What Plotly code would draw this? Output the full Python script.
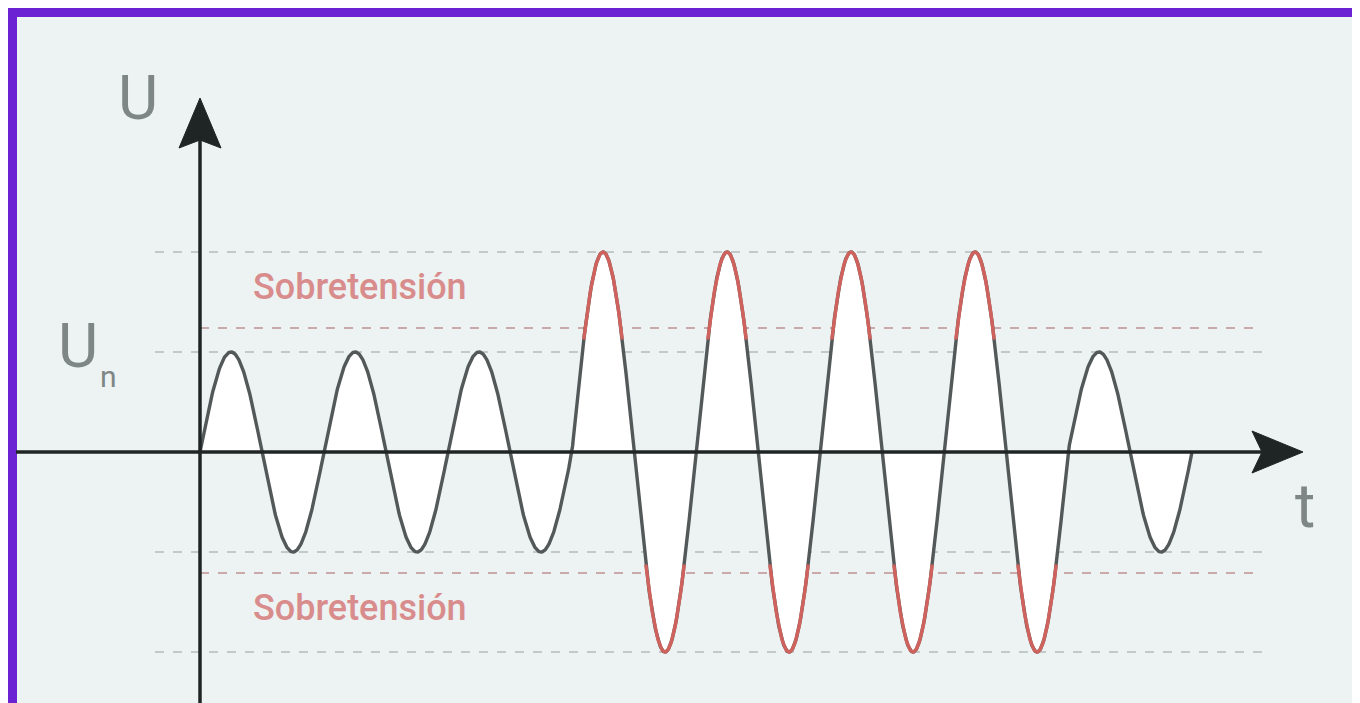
import numpy as np
import plotly.graph_objects as go

# ---- data ----
cycle_amplitudes = [1, 1, 1, 2, 2, 2, 2, 1]      # peak voltage per cycle, in units of Un
nominal_levels = [1, -1]                           # +-Un
overvoltage_peak_levels = [2, -2]                  # peaks of the overvoltage
overvoltage_threshold = [1.24, -1.21]              # red dashed thresholds
labels_over = ["Sobretensión", "Sobretensión"]
axis_label_y = "U"
axis_label_x = "t"
nominal_label = "U"
nominal_sub = "n"

samples_per_cycle = 200
t_list, u_list = [], []
for k, a in enumerate(cycle_amplitudes):
    tt = np.linspace(k, k + 1, samples_per_cycle, endpoint=False)
    t_list.append(tt)
    u_list.append(a * np.sin(2 * np.pi * tt))
t = np.concatenate(t_list + [np.array([len(cycle_amplitudes)])])
u = np.concatenate(u_list + [np.array([0.0])])

# The page body has an 8px margin, so the figure starts at (8, 8) on screen.
OFF = 8
W, H = 1360, 703
X0, Y0, SX, SY = 200 - OFF, 452 - OFF, 124, 100   # t=0 / U=0 position and scale (in figure px)
x_range = [-X0 / SX, (W - X0) / SX]
y_range = [(Y0 - H) / SY, Y0 / SY]

def px_x(p):  # screen pixel -> data t
    return (p - OFF - X0) / SX

def px_y(p):  # screen pixel -> data U
    return (Y0 - (p - OFF)) / SY

fig = go.Figure()

GRAY = "#535858"
RED = "#d0625e"

fig.add_trace(go.Scatter(x=t, y=u, mode="lines", fill="tozeroy", fillcolor="white",
                         line=dict(color=GRAY, width=3.4), hoverinfo="skip", showlegend=False))

thr = 1.12
u_red = np.where(np.abs(u) > thr, u, np.nan)
fig.add_trace(go.Scatter(x=t, y=u_red, mode="lines", line=dict(color=RED, width=3.4),
                         hoverinfo="skip", showlegend=False, connectgaps=False))

shapes = []
shapes.append(dict(type="rect", xref="paper", yref="paper",
                   x0=(12.5 - OFF) / W, x1=1.03, y0=-0.03, y1=1 - (12.5 - OFF) / H,
                   fillcolor="#edf2f2", line=dict(color="#6a22d2", width=9), layer="below"))

for lv in overvoltage_peak_levels + nominal_levels:
    shapes.append(dict(type="line", xref="x", yref="y", x0=px_x(155), x1=px_x(1262), y0=lv, y1=lv,
                       line=dict(color="#c3c8c8", width=2, dash="dash"), layer="below"))
for lv in overvoltage_threshold:
    shapes.append(dict(type="line", xref="x", yref="y", x0=px_x(200), x1=px_x(1262), y0=lv, y1=lv,
                       line=dict(color="#c9a9a9", width=2, dash="dash"), layer="below"))

AX = "#1f2424"
shapes.append(dict(type="line", xref="x", yref="y", x0=px_x(16), x1=px_x(1262), y0=0, y1=0,
                   line=dict(color=AX, width=3.5)))
shapes.append(dict(type="line", xref="x", yref="y", x0=0, x1=0, y0=px_y(712), y1=px_y(140),
                   line=dict(color=AX, width=3.5)))
shapes.append(dict(type="path", xref="x", yref="y",
                   path=f"M {px_x(1303)},{px_y(452)} L {px_x(1252)},{px_y(431)} L {px_x(1262)},{px_y(452)} L {px_x(1252)},{px_y(473)} Z",
                   fillcolor=AX, line=dict(color=AX, width=1)))
shapes.append(dict(type="path", xref="x", yref="y",
                   path=f"M {px_x(200)},{px_y(98)} L {px_x(179)},{px_y(148)} L {px_x(200)},{px_y(140)} L {px_x(221)},{px_y(148)} Z",
                   fillcolor=AX, line=dict(color=AX, width=1)))

LABEL_FONT = dict(family="Roboto", size=62, color="#7f8686", weight=400)
SUB_FONT = dict(family="Roboto", size=30, color="#7f8686", weight=400)
OVER_FONT = dict(family="Roboto", size=36, color="#d98c8c", weight=500)
annotations = [
    dict(x=px_x(138), y=px_y(97), text=axis_label_y, showarrow=False, xref="x", yref="y", font=LABEL_FONT),
    dict(x=px_x(78), y=px_y(345), text=nominal_label, showarrow=False, xref="x", yref="y", font=LABEL_FONT),
    dict(x=px_x(108), y=px_y(376), text=nominal_sub, showarrow=False, xref="x", yref="y", font=SUB_FONT),
    dict(x=px_x(1305), y=px_y(505), text=axis_label_x, showarrow=False, xref="x", yref="y", font=LABEL_FONT),
    dict(x=px_x(360), y=px_y(287), text=labels_over[0], showarrow=False, xref="x", yref="y", font=OVER_FONT),
    dict(x=px_x(360), y=px_y(608), text=labels_over[1], showarrow=False, xref="x", yref="y", font=OVER_FONT),
]

fig.update_layout(
    width=W, height=H, margin=dict(l=0, r=0, t=0, b=0),
    paper_bgcolor="white", plot_bgcolor="rgba(0,0,0,0)",
    xaxis=dict(range=x_range, visible=False, fixedrange=True),
    yaxis=dict(range=y_range, visible=False, fixedrange=True),
    shapes=shapes, annotations=annotations, showlegend=False,
)

fig.write_html("out.html")
